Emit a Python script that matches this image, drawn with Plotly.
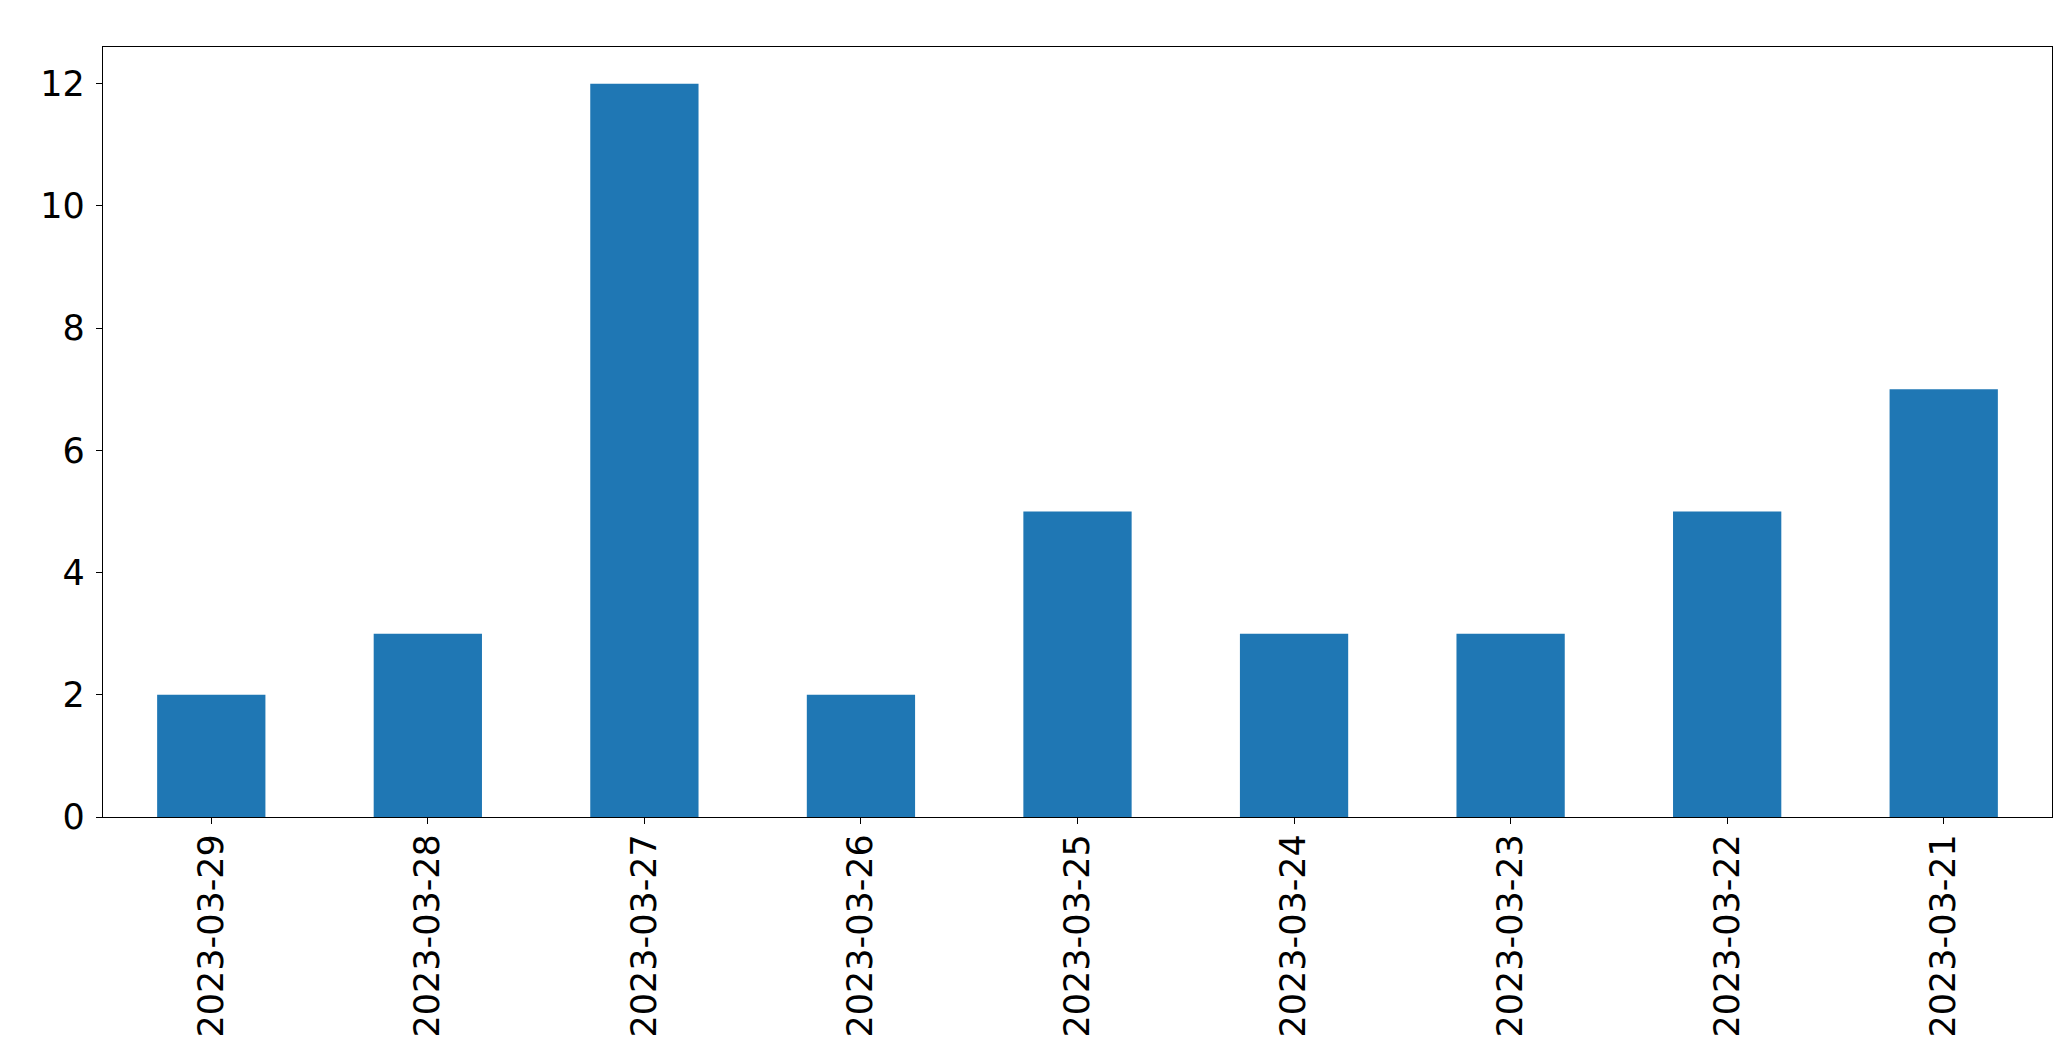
import plotly.graph_objects as go

dates = ["2023-03-29", "2023-03-28", "2023-03-27", "2023-03-26", "2023-03-25",
         "2023-03-24", "2023-03-23", "2023-03-22", "2023-03-21"]
counts = [2, 3, 12, 2, 5, 3, 3, 5, 7]
y_ticks = [0, 2, 4, 6, 8, 10, 12]

fig = go.Figure(go.Bar(x=dates, y=counts, marker=dict(color="#1f77b4", line=dict(width=0)), width=0.5))

font = dict(family="DejaVu Sans", size=35, color="black")
fig.update_layout(
    width=2071, height=1061,
    margin=dict(l=95, r=27, t=39, b=252),
    paper_bgcolor="white", plot_bgcolor="white",
    showlegend=False, font=font,
)
fig.update_xaxes(
    type="category", range=[-0.5, len(dates) - 0.5],
    showline=True, mirror=True, linecolor="black", linewidth=1.3,
    ticks="outside", ticklen=6, tickwidth=1.3, tickcolor="black",
    tickangle=-90, tickfont=font, showgrid=False, zeroline=False,
    ticklabelstandoff=-4,
)
fig.update_yaxes(
    range=[0, 12.6], tickvals=y_ticks,
    showline=True, mirror=True, linecolor="black", linewidth=1.3,
    ticks="outside", ticklen=6, tickwidth=1.3, tickcolor="black",
    tickfont=font, showgrid=False, zeroline=False,
    ticklabelstandoff=4,
)
fig.write_html("out.html")
